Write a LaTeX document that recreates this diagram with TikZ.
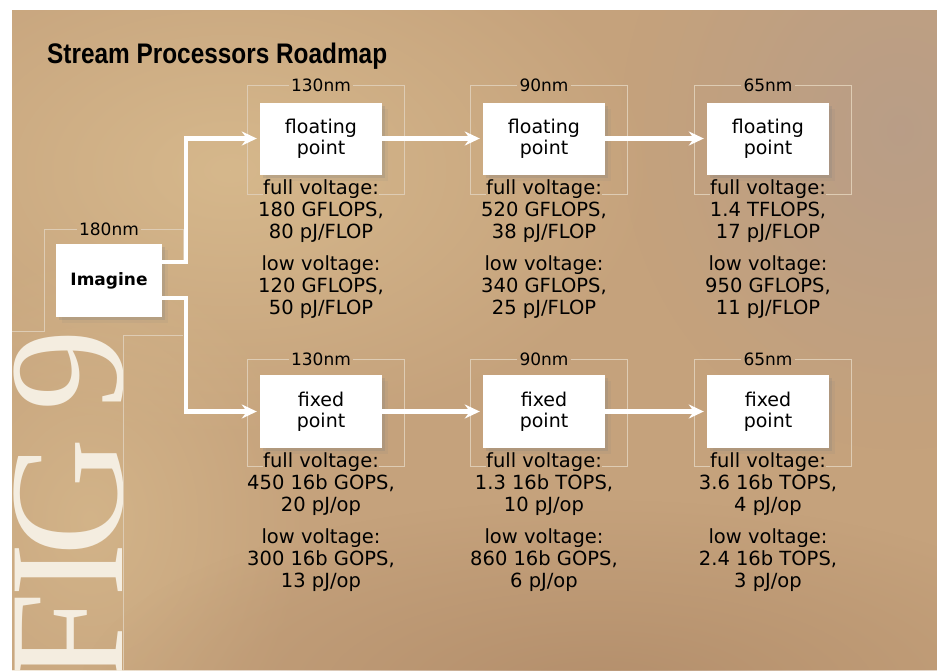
\documentclass[tikz,border=0pt]{standalone}
\usepackage{fontspec}
\setmainfont{DejaVu Sans}
\newfontfamily\titlefont{Liberation Sans}
\newfontfamily\figfont{Liberation Serif}
\usetikzlibrary{arrows.meta,shadows,fadings}
\definecolor{bgbase}{RGB}{197,162,124}
\definecolor{bglight}{RGB}{214,184,140}
\definecolor{bggrey}{RGB}{180,156,140}
\definecolor{bgdark}{RGB}{180,143,108}
\definecolor{figcream}{RGB}{244,237,224}
\definecolor{framecol}{RGB}{222,204,180}
\tikzfading[name=softblob, inner color=transparent!0, outer color=transparent!100]
\begin{document}
\begin{tikzpicture}[x=1pt,y=-1pt,
  chip/.style={fill=white, minimum width=122pt, minimum height=72pt, align=center,
    inner sep=0pt, font=\fontsize{19}{21}\selectfont,
    drop shadow={shadow xshift=3pt, shadow yshift=-3pt, opacity=0.22},
    drop shadow={shadow xshift=6pt, shadow yshift=-6pt, opacity=0.1}},
  nmlabel/.style={font=\fontsize{17}{20}\selectfont, inner sep=2pt},
  info/.style={font=\fontsize{19.5}{22}\selectfont, align=center, inner sep=0pt, anchor=north},
  flow/.style={draw=white, line width=4.5pt, -{Stealth[length=15pt,width=14pt,inset=5pt]}, shorten >=3pt},
  frameline/.style={draw=framecol, line width=0.8pt},
  figletter/.style={rotate=90, anchor=base, inner sep=0pt, text=figcream, font=\figfont\fontsize{164}{164}\selectfont},
]
\fill[white] (0,0) rectangle (937,670);
\useasboundingbox (0,0) rectangle (937,670);
% background
\begin{scope}
  \clip (12,10) rectangle (937,670);
  \fill[bgbase] (12,10) rectangle (937,670);
  \fill[bglight, path fading=softblob] (230,170) ellipse (430 and 270);
  \fill[bglight, path fading=softblob, opacity=0.8] (90,520) ellipse (220 and 280);
  \fill[bggrey, path fading=softblob, opacity=0.7] (900,130) ellipse (280 and 320);
  \fill[bgdark, path fading=softblob] (600,690) ellipse (520 and 190);
\end{scope}
% FIG 9
\begin{scope}
  \clip (12,10) rectangle (122,670);
  \node[figletter] (figF) at (122,638) {F};
  \node[figletter] (figI) at (122,570) {I};
  \node[figletter] (figG) at (122,497) {G};
  \node[figletter] (fig9) at (122,370) {9};
\end{scope}
% title
\node[anchor=base west, inner sep=0pt] (title) at (47,63)
  {\resizebox{340pt}{20.5pt}{\titlefont\bfseries Stream Processors Roadmap}};
% Imagine
\node[chip, minimum width=106pt, minimum height=73pt, font=\bfseries\fontsize{17}{20}\selectfont] (img) at (109,280.5) {Imagine};
\node[nmlabel] (l0) at (109,229) {180nm};
\draw[frameline] (l0.west) -- (44,229) -- (44,331) -- (12,331);
\draw[frameline] (l0.east) -- (183,229) -- (183,262);
\draw[frameline] (183,335) -- (123,335) -- (123,670);
% columns
\foreach \cx/\n/\nm in {321/1/130nm, 544/2/90nm, 768/3/65nm}{
  \node[nmlabel] (la\n) at (\cx,85.5) {\nm};
  \draw[frameline] (la\n.west) -- (\cx-74,85.5) -- (\cx-74,194) -- (\cx-58,194);
  \draw[frameline] (la\n.east) -- (\cx+83,85.5) -- (\cx+83,194) -- (\cx+58,194);
  \node[nmlabel] (lb\n) at (\cx,359.5) {\nm};
  \draw[frameline] (lb\n.west) -- (\cx-74,359.5) -- (\cx-74,466) -- (\cx-58,466);
  \draw[frameline] (lb\n.east) -- (\cx+83,359.5) -- (\cx+83,466) -- (\cx+58,466);
  \node[chip] (fp\n) at (\cx,138.5) {floating\\point};
  \node[chip, minimum height=73pt] (fx\n) at (\cx,411.5) {fixed\\point};
}
% info texts
\node[info] (fpa1) at (321,179.5) {full voltage:\\180 GFLOPS,\\80 pJ/FLOP};
\node[info] (fpb1) at (321,255.5) {low voltage:\\120 GFLOPS,\\50 pJ/FLOP};
\node[info] (fpa2) at (544,179.5) {full voltage:\\520 GFLOPS,\\38 pJ/FLOP};
\node[info] (fpb2) at (544,255.5) {low voltage:\\340 GFLOPS,\\25 pJ/FLOP};
\node[info] (fpa3) at (768,179.5) {full voltage:\\1.4 TFLOPS,\\17 pJ/FLOP};
\node[info] (fpb3) at (768,255.5) {low voltage:\\950 GFLOPS,\\11 pJ/FLOP};
\node[info] (fxa1) at (321,452.5) {full voltage:\\450 16b GOPS,\\20 pJ/op};
\node[info] (fxb1) at (321,528.5) {low voltage:\\300 16b GOPS,\\13 pJ/op};
\node[info] (fxa2) at (544,452.5) {full voltage:\\1.3 16b TOPS,\\10 pJ/op};
\node[info] (fxb2) at (544,528.5) {low voltage:\\860 16b GOPS,\\6 pJ/op};
\node[info] (fxa3) at (768,452.5) {full voltage:\\3.6 16b TOPS,\\4 pJ/op};
\node[info] (fxb3) at (768,528.5) {low voltage:\\2.4 16b TOPS,\\3 pJ/op};
% arrows
\draw[flow] ([yshift=18.5pt]img.east) -- ++(24,0) |- (fp1.west);
\draw[flow] ([yshift=-17.5pt]img.east) -- ++(24,0) |- (fx1.west);
\draw[flow] (fp1) -- (fp2);
\draw[flow] (fp2) -- (fp3);
\draw[flow] (fx1) -- (fx2);
\draw[flow] (fx2) -- (fx3);
\end{tikzpicture}
\end{document}
